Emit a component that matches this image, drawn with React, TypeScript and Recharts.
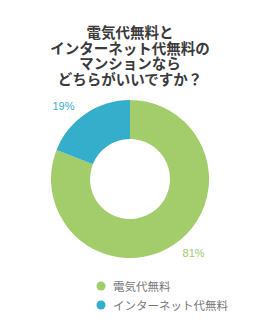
import React from "react";
import { PieChart, Pie, Cell } from "recharts";

const titleLines = ["電気代無料と", "インターネット代無料の", "マンションなら", "どちらがいいですか？"];
const categories = ["電気代無料", "インターネット代無料"];
const values = [81, 19];
const colors = ["#a3cc6a", "#35aecb"];

const data = categories.map((name, i) => ({ name, value: values[i] }));

const RAD = Math.PI / 180;

const renderLabel = (props: any) => {
  const { cx, cy, midAngle, outerRadius, index, value } = props;
  const r = outerRadius + 18;
  const x = cx + r * Math.cos(-midAngle * RAD);
  const y = cy + r * Math.sin(-midAngle * RAD);
  const left = x < cx;
  return (
    <text
      x={x + (left ? -1 : -2)}
      y={y + (y < cy ? 7 : -6)}
      fill={colors[index]}
      textAnchor={left ? "end" : "start"}
      dominantBaseline="central"
      fontSize={11}
      fontFamily="'Liberation Sans', Arial, sans-serif"
    >
      {value}%
    </text>
  );
};

export default function App() {
  return (
    <div style={{ position: "absolute", left: 0, top: 0, width: 260, height: 320, background: "#fff" }}>
      <div
        style={{
          position: "absolute",
          left: 0,
          top: 24,
          width: 260,
          textAlign: "center",
          fontFamily: "'Noto Sans CJK JP', sans-serif",
          fontWeight: 700,
          fontSize: 14.5,
          lineHeight: "15.7px",
          color: "#3a3a3a",
        }}
      >
        {titleLines.map((l, i) => (
          <div key={i} style={{ height: 15.7 }}>{l}</div>
        ))}
      </div>
      <div style={{ position: "absolute", left: 0, top: 0 }}>
        <PieChart width={260} height={270} margin={{ top: 0, right: 0, bottom: 0, left: 0 }}>
          <Pie
            data={data}
            dataKey="value"
            nameKey="name"
            cx={130}
            cy={179}
            innerRadius={40}
            outerRadius={79}
            startAngle={90}
            endAngle={-270}
            stroke="none"
            label={renderLabel}
            labelLine={false}
            isAnimationActive={false}
          >
            {data.map((d, i) => (
              <Cell key={d.name} fill={colors[i]} />
            ))}
          </Pie>
        </PieChart>
      </div>
      <ul style={{ position: "absolute", left: 96, top: 276, listStyle: "none", margin: 0, padding: 0 }}>
        {categories.map((c, i) => (
          <li key={c} style={{ display: "flex", alignItems: "center", height: 19 }}>
            <svg width={10} height={10} style={{ marginRight: 7 }}>
              <circle cx={5} cy={5} r={4.5} fill={colors[i]} />
            </svg>
            <span style={{ color: "#777", fontSize: 11.5, fontFamily: "'Noto Sans CJK JP', sans-serif" }}>{c}</span>
          </li>
        ))}
      </ul>
    </div>
  );
}
